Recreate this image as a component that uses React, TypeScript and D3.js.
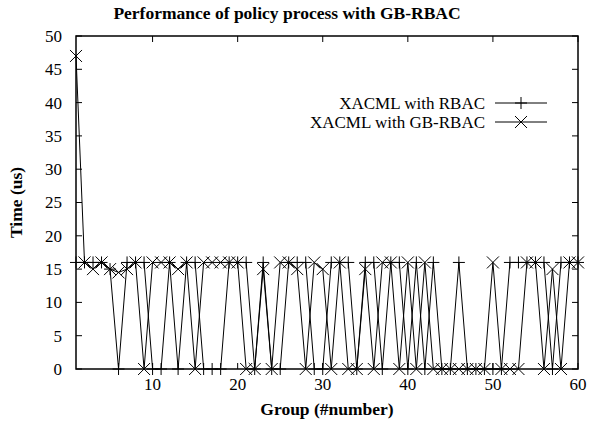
import * as d3 from 'd3';

// group index 1..60
const groups = d3.range(1, 61);

const rbac = [
  16, 16, 16, 16, 15, 0, 16, 16, 16, 0,
  0, 16, 0, 16, 16, 0, 0, 0, 16, 16,
  16, 0, 16, 0, 0, 16, 16, 16, 0, 0,
  16, 16, 16, 0, 16, 16, 0, 16, 16, 0,
  16, 0, 16, 0, 0, 16, 0, 0, 0, 0,
  0, 16, 16, 16, 16, 16, 0, 16, 16, 16,
];

const gbRbac = [
  47, 16, 15, 16, 15, 14.5, 15, 16, 0, 16,
  16, 16, 15, 16, 0, 16, 16, 16, 16, 16,
  0, 0, 15, 0, 16, 16, 15, 0, 16, 15,
  0, 16, 0, 0, 15, 0, 16, 16, 0, 16,
  0, 16, 0, 0, 0, 0, 0, 0, 0, 16,
  0, 0, 0, 16, 16, 0, 15, 0, 16, 16,
];

const xTicks = [10, 20, 30, 40, 50, 60];
const yTicks = [0, 5, 10, 15, 20, 25, 30, 35, 40, 45, 50];

const seriesNames = ['XACML with RBAC', 'XACML with GB-RBAC'];

const W = 589;
const H = 427;
const left = 76;
const right = 578;
const top = 36;
const bottom = 369;
const font = '"Liberation Serif", "Times New Roman", serif';

function Plus({ x, y, s = 6 }: { x: number; y: number; s?: number }) {
  return <path d={`M${x - s},${y}H${x + s}M${x},${y - s}V${y + s}`} stroke='black' strokeWidth={1} />;
}

function Cross({ x, y, s = 6 }: { x: number; y: number; s?: number }) {
  return (
    <path d={`M${x - s},${y - s}L${x + s},${y + s}M${x - s},${y + s}L${x + s},${y - s}`} stroke='black' strokeWidth={1} />
  );
}

export default function App() {
  const x = d3.scaleLinear().domain([1, 60]).range([left, right]);
  const y = d3.scaleLinear().domain([0, 50]).range([bottom, top]);

  const line = d3
    .line<number>()
    .x((_, i) => x(groups[i]))
    .y((d) => y(d));

  const tick = 6;

  return (
    <svg width={W} height={H} style={{ position: 'absolute', left: 0, top: 0, background: 'white' }} fontFamily={font}>
      <text x={287} y={19} textAnchor='middle' fontWeight='bold' fontSize={17.5}>
        Performance of policy process with GB-RBAC
      </text>

      {yTicks.map((t) => (
        <g key={'y' + t}>
          <line x1={left} x2={left + tick} y1={y(t)} y2={y(t)} stroke='black' />
          <line x1={right} x2={right - tick} y1={y(t)} y2={y(t)} stroke='black' />
          <text x={left - 14} y={y(t)} dy='0.35em' textAnchor='end' fontSize={17}>
            {t}
          </text>
        </g>
      ))}
      {xTicks.map((t) => (
        <g key={'x' + t}>
          <line x1={x(t)} x2={x(t)} y1={bottom} y2={bottom - tick} stroke='black' />
          <line x1={x(t)} x2={x(t)} y1={top} y2={top + tick} stroke='black' />
          <text x={x(t)} y={bottom + 21} textAnchor='middle' fontSize={17}>
            {t}
          </text>
        </g>
      ))}

      <text
        transform={`translate(22,${(top + bottom) / 2}) rotate(-90)`}
        textAnchor='middle'
        fontWeight='bold'
        fontSize={17.5}
      >
        Time (us)
      </text>
      <text x={327} y={415} textAnchor='middle' fontWeight='bold' fontSize={17.5}>
        Group (#number)
      </text>

      <path d={line(rbac) || ''} fill='none' stroke='black' strokeWidth={1} />
      <path d={line(gbRbac) || ''} fill='none' stroke='black' strokeWidth={1} />
      {rbac.map((v, i) => (
        <Plus key={'p' + i} x={x(groups[i])} y={y(v)} />
      ))}
      {gbRbac.map((v, i) => (
        <Cross key={'c' + i} x={x(groups[i])} y={y(v)} />
      ))}

      {seriesNames.map((name, i) => {
        const ly = 103 + i * 19;
        return (
          <g key={name}>
            <text x={485} y={ly} dy='0.35em' textAnchor='end' fontSize={17}>
              {name}
            </text>
            <line x1={495} x2={547} y1={ly} y2={ly} stroke='black' />
            {i === 0 ? <Plus x={521} y={ly} /> : <Cross x={521} y={ly} />}
          </g>
        );
      })}

      <rect x={left} y={top} width={right - left} height={bottom - top} fill='none' stroke='black' strokeWidth={1.5} />
    </svg>
  );
}
